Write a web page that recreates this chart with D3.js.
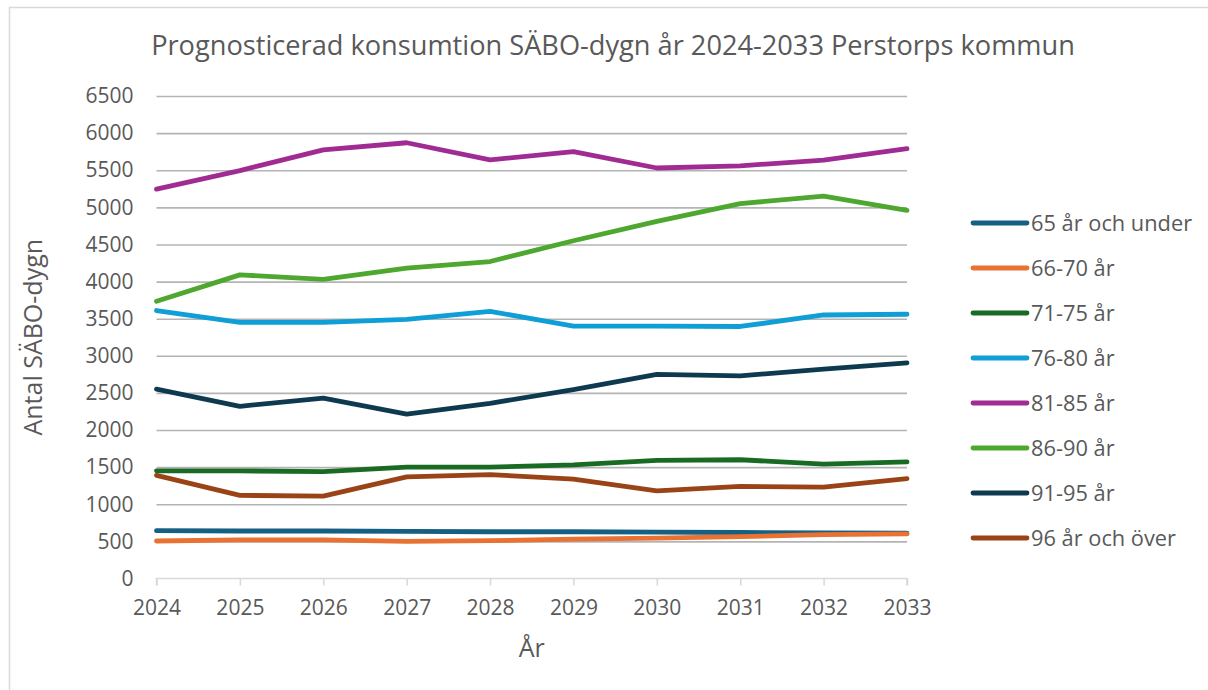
<!DOCTYPE html>
<html>
<head>
<meta charset="utf-8">
<script src="https://cdn.jsdelivr.net/npm/d3@7"></script>
<style>
  html, body { margin: 0; padding: 0; background: #fff; }
  svg { display: block; font-family: "Open Sans", "Liberation Sans", sans-serif; }
</style>
</head>
<body>
<svg id="chart" width="1208" height="690"></svg>
<script>
const years = [2024, 2025, 2026, 2027, 2028, 2029, 2030, 2031, 2032, 2033];
const seriesNames = ["65 år och under", "66-70 år", "71-75 år", "76-80 år", "81-85 år", "86-90 år", "91-95 år", "96 år och över"];
const s65under = [645, 640, 640, 635, 630, 630, 625, 620, 615, 610];
const s66_70 = [505, 520, 520, 500, 510, 530, 545, 565, 590, 600];
const s71_75 = [1450, 1450, 1440, 1500, 1500, 1530, 1590, 1600, 1540, 1570];
const s76_80 = [3610, 3450, 3450, 3490, 3600, 3400, 3400, 3395, 3550, 3560];
const s81_85 = [5245, 5495, 5775, 5870, 5640, 5750, 5530, 5560, 5635, 5790];
const s86_90 = [3735, 4090, 4030, 4180, 4270, 4550, 4810, 5050, 5150, 4960];
const s91_95 = [2550, 2320, 2430, 2215, 2360, 2545, 2750, 2730, 2820, 2905];
const s96over = [1390, 1120, 1110, 1370, 1400, 1340, 1180, 1240, 1230, 1345];
const yTicks = [0, 500, 1000, 1500, 2000, 2500, 3000, 3500, 4000, 4500, 5000, 5500, 6000, 6500];
const colors = ["#156082", "#E97132", "#196B24", "#0F9ED5", "#A02B93", "#4EA72E", "#0E3A50", "#9A4316"];
const title = "Prognosticerad konsumtion SÄBO-dygn år 2024-2033 Perstorps kommun";
const xTitle = "År";
const yTitle = "Antal SÄBO-dygn";

const allSeries = [s65under, s66_70, s71_75, s76_80, s81_85, s86_90, s91_95, s96over];

const svg = d3.select("#chart");
const textColor = "#595959";
const font = "'Open Sans', 'Liberation Sans', sans-serif";

// outer border
svg.append("rect").attr("x", 9.5).attr("y", 7.5).attr("width", 1210).attr("height", 700)
  .attr("fill", "none").attr("stroke", "#d9d9d9").attr("stroke-width", 1.5);

const pLeft = 156.5, pRight = 907, pTop = 96, pBottom = 578.5;
const x = d3.scalePoint().domain(years).range([pLeft, pRight]);
const y = d3.scaleLinear().domain([0, 6500]).range([pBottom, pTop]);

// title
svg.append("text").attr("x", 613).attr("y", 55).attr("text-anchor", "middle")
  .attr("font-size", 27.2).attr("fill", textColor).text(title);

// gridlines
const grid = svg.append("g").attr("transform", `translate(${pLeft},0)`)
  .call(d3.axisLeft(y).tickValues(yTicks.filter(v => v > 0)).tickSize(-(pRight - pLeft)).tickFormat(""));
grid.select(".domain").remove();
grid.selectAll(".tick line").attr("stroke", "#b4b4b4").attr("stroke-width", 1.6);

// y labels
const yAxis = svg.append("g").attr("transform", `translate(${pLeft},0)`)
  .call(d3.axisLeft(y).tickValues(yTicks).tickSize(0).tickPadding(23).tickFormat(d3.format("d")));
yAxis.select(".domain").remove();
yAxis.selectAll("text").attr("font-size", 21).attr("fill", textColor).attr("font-family", font);

// x axis
const xAxis = svg.append("g").attr("transform", `translate(0,${pBottom})`)
  .call(d3.axisBottom(x).tickSize(7).tickPadding(15).tickFormat(d3.format("d")));
xAxis.select(".domain").attr("stroke", "#d9d9d9").attr("stroke-width", 1.6)
  .attr("d", `M${pLeft},7V0H${pRight}V7`);
xAxis.selectAll(".tick line").attr("stroke", "#d9d9d9").attr("stroke-width", 1.6);
xAxis.selectAll("text").attr("font-size", 21).attr("fill", textColor).attr("font-family", font);

// axis titles
svg.append("text").attr("x", (pLeft + pRight) / 2).attr("y", 657).attr("text-anchor", "middle")
  .attr("font-size", 25).attr("fill", textColor).text(xTitle);
svg.append("text").attr("transform", `translate(42,${(pTop + pBottom) / 2}) rotate(-90)`)
  .attr("text-anchor", "middle").attr("font-size", 25).attr("fill", textColor).text(yTitle);

// lines
const line = d3.line().x((d, i) => x(years[i])).y(d => y(d));
allSeries.forEach((s, k) => {
  svg.append("path").datum(s).attr("d", line).attr("fill", "none")
    .attr("stroke", colors[k]).attr("stroke-width", 4.8)
    .attr("stroke-linejoin", "round").attr("stroke-linecap", "round");
});

// legend
const legend = svg.append("g");
seriesNames.forEach((name, k) => {
  const ly = 223 + k * 45;
  legend.append("line").attr("x1", 973).attr("x2", 1027).attr("y1", ly).attr("y2", ly)
    .attr("stroke", colors[k]).attr("stroke-width", 4.8).attr("stroke-linecap", "round");
  legend.append("text").attr("x", 1031).attr("y", ly).attr("dy", "0.35em")
    .attr("font-size", 21.8).attr("fill", textColor).text(name);
});
</script>
</body>
</html>
